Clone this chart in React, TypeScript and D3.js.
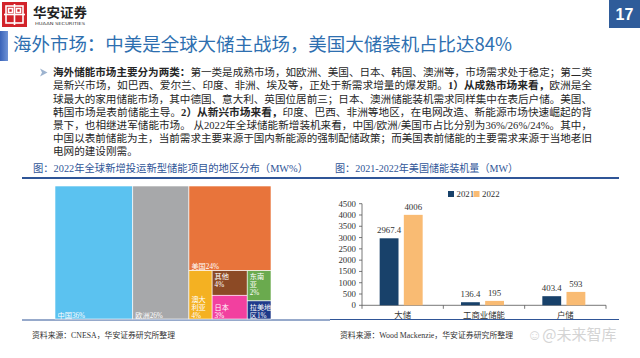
import React from "react";
import * as d3 from "d3";

// ---------- data ----------
const regionNames = ["中国", "欧洲", "美国", "澳大利亚", "其他", "日本", "东南亚", "拉美地区"];
const regionShares = [36, 26, 24.2, 3.9, 3.0, 2.9, 2.5, 1.5];
const regionLabelLines = [["中国36%"], ["欧洲26%"], ["美国24%"], ["澳大", "利亚", "4%"], ["其他", "4%"], ["日本", "3%"], ["东南", "亚", "2%"], ["拉美地", "区1%"]];
const treeShape: any[] = [0, 1, [2, [3, [4, 5], [6, 7]]]];

const barCategories = ["大储", "工商业储能", "户储"];
const barSeries = ["2021", "2022"];
const values2021 = [2967.4, 136.4, 403.4];
const values2022 = [4006, 195, 593];
const valueLabels2021 = ["2967.4", "136.4", "403.4"];
const valueLabels2022 = ["4006", "195", "593"];
const yTicks = [0, 500, 1000, 1500, 2000, 2500, 3000, 3500, 4000, 4500];

const titleText = "海外市场：中美是全球大储主战场，美国大储装机占比达84%";
const bodyLines: [string, boolean][][] = [
  [["海外储能市场主要分为两类：", true], ["第一类是成熟市场，如欧洲、美国、日本、韩国、澳洲等，市场需求处于稳定；第二类", false]],
  [["是新兴市场，如巴西、爱尔兰、印度、非洲、埃及等，正处于新需求增量的爆发期。", false], ["1）从成熟市场来看，", true], ["欧洲是全", false]],
  [["球最大的家用储能市场，其中德国、意大利、英国位居前三；日本、澳洲储能装机需求同样集中在表后户储。美国、", false]],
  [["韩国市场是表前储能主导。", false], ["2）从新兴市场来看，", true], ["印度、巴西、非洲等地区，在电网改造、新能源市场快速崛起的背", false]],
  [["景下，也相继进军储能市场。 从2022年全球储能新增装机来看，中国/欧洲/美国市占比分别为36%/26%/24%。其中，", false]],
  [["中国以表前储能为主，当前需求主要来源于国内新能源的强制配储政策；而美国表前储能的主要需求来源于当地老旧", false]],
  [["电网的建设刚需。", false]],
];

// ---------- styles ----------
const regionColors = ["#5bc2f0", "#a7a8aa", "#e8743b", "#f4b122", "#8c4a25", "#f2409f", "#6aaa4e", "#1e3a8a"];
const labelTop = [false, false, false, false, true, false, true, false];
const seriesColors = ["#18416a", "#f9bb73"];
const CJK = "'Noto Sans CJK SC', 'Noto Sans', sans-serif";
const SERIF = "'Liberation Serif', 'Noto Sans CJK SC', serif";
const BLUE = "#2f5597";

function buildTree(node: any): any {
  if (typeof node === "number") return { name: regionNames[node], idx: node, value: regionShares[node] };
  return { children: node.map(buildTree) };
}

export default function App() {
  // treemap
  const tmX0 = 55, tmY0 = 186, tmX1 = 271, tmY1 = 319;
  const root = d3.hierarchy(buildTree(treeShape)).sum((d: any) => d.value || 0);
  d3.treemap().tile(d3.treemapSliceDice).size([tmX1 - tmX0, tmY1 - tmY0]).round(false)(root as any);
  const leaves = root.leaves() as any[];

  // bar chart
  const x = d3.scaleBand().domain(barCategories).range([362, 606]).paddingInner(0).paddingOuter(0);
  const y = d3.scaleLinear().domain([0, 4500]).range([305.3, 203.7]);
  const series = [values2021, values2022];
  const seriesLabels = [valueLabels2021, valueLabels2022];

  return (
    <svg width={640} height={358} style={{ position: "fixed", left: 0, top: 0, background: "#fff" }} xmlns="http://www.w3.org/2000/svg">
      <rect width={640} height={358} fill="#fff" />
      <defs>
        <linearGradient id="tbar" x1="0" y1="0" x2="1" y2="0">
          <stop offset="0" stopColor="#3a63b8" />
          <stop offset="1" stopColor="#6f93d6" />
        </linearGradient>
      </defs>
      {/* header logo */}
      <rect x={2} y={2} width={25} height={25} fill="#d2232a" />
      <g stroke="#fff" strokeWidth={1.6} fill="none">
        <rect x={6} y={6} width={17} height={17} />
        <line x1={14.5} y1={4} x2={14.5} y2={25} />
        <line x1={4} y1={14.5} x2={25} y2={14.5} />
        <rect x={8.5} y={8.5} width={4} height={4} />
        <rect x={16.5} y={8.5} width={4} height={4} />
      </g>
      <text x={33} y={17} fontFamily={CJK} fontSize={13} fontWeight="bold" fill="#222" textLength={54} lengthAdjust="spacingAndGlyphs">华安证券</text>
      <text x={35} y={24.5} fontFamily="'DejaVu Sans', sans-serif" fontSize={4.2} fill="#333" textLength={50} lengthAdjust="spacingAndGlyphs">HUAAN SECURITIES</text>
      {/* page number */}
      <rect x={609} y={0} width={31} height={28} fill="#2f5c9a" />
      <text x={624.5} y={20} textAnchor="middle" fontFamily="'Liberation Sans', Arial, sans-serif" fontWeight="bold" fontSize={16} fill="#fff">17</text>

      {/* title */}
      <rect x={0} y={31} width={8} height={30} fill="url(#tbar)" />
      <text x={13} y={51} fontFamily={CJK} fontSize={18} fill="#2e6fb0" textLength={499} lengthAdjust="spacingAndGlyphs">{titleText}</text>

      {/* body */}
      <path d="M40,68.5 L47.5,72.5 L40,76.5 L42,72.5 Z" fill="#9db3cf" />
      {bodyLines.map((segs, i) => (
        <text key={i} x={53} y={76.3 + i * 13.1} fontFamily={SERIF} fontSize={10.6} fill="#262626"
          {...(i < 6 ? { textLength: 539, lengthAdjust: "spacingAndGlyphs" } : {})}>
          {segs.map(([t, b], j) => (
            <tspan key={j} fontWeight={b ? "bold" : "normal"}>{t}</tspan>
          ))}
        </text>
      ))}

      {/* left chart caption */}
      <text x={33} y={172} fontFamily={SERIF} fontSize={10.5} fill={BLUE} textLength={275} lengthAdjust="spacingAndGlyphs">图：2022年全球新增投运新型储能项目的地区分布（MW%）</text>
      <line x1={22} x2={330} y1={178} y2={178} stroke={BLUE} strokeWidth={2} />
      <line x1={22} x2={330} y1={320} y2={320} stroke={BLUE} strokeWidth={1} />
      {leaves.map((l: any) => {
        const i = l.data.idx;
        const lx = tmX0 + l.x0, ly0 = tmY0 + l.y0, ly1 = tmY0 + l.y1;
        const lines = regionLabelLines[i];
        const lh = 8;
        const startY = labelTop[i] ? ly0 + 8 : ly1 - 1.5 - (lines.length - 1) * lh;
        return (
          <g key={i}>
            <rect x={lx} y={ly0} width={l.x1 - l.x0} height={l.y1 - l.y0} fill={regionColors[i]} stroke="#fff" strokeWidth={0.6} />
            {lines.map((t: string, k: number) => (
              <text key={k} x={lx + 2.5} y={startY + k * lh} fontFamily={SERIF} fontSize={7.2} fill="#fff">{t}</text>
            ))}
          </g>
        );
      })}
      <text x={32} y={338} fontFamily={SERIF} fontSize={8.4} fill="#333" textLength={143} lengthAdjust="spacingAndGlyphs">资料来源：CNESA，华安证券研究所整理</text>

      {/* right chart */}
      <text x={335} y={172} fontFamily={SERIF} fontSize={10.5} fill={BLUE} textLength={183} lengthAdjust="spacingAndGlyphs">图：2021-2022年美国储能装机量（MW）</text>
      <line x1={330} x2={619} y1={178} y2={178} stroke={BLUE} strokeWidth={2} />
      <line x1={330} x2={619} y1={319.5} y2={319.5} stroke={BLUE} strokeWidth={1} />

      {/* legend */}
      {barSeries.map((s, i) => (
        <g key={s}>
          <rect x={448 + i * 25.5} y={191} width={6} height={6} fill={seriesColors[i]} />
          <text x={456.5 + i * 25.5} y={197.3} fontFamily={SERIF} fontSize={8.8} fill="#333">{s}</text>
        </g>
      ))}

      {/* y axis */}
      <line x1={362} x2={362} y1={y(0)} y2={y(4500)} stroke="#555" strokeWidth={0.8} />
      {yTicks.map((t) => (
        <g key={t}>
          <line x1={359} x2={362} y1={y(t)} y2={y(t)} stroke="#555" strokeWidth={0.8} />
          <text x={356} y={y(t) + 3} textAnchor="end" fontFamily={SERIF} fontSize={8.8} fill="#333">{t}</text>
        </g>
      ))}
      {/* x axis */}
      <line x1={362} x2={606} y1={y(0)} y2={y(0)} stroke="#555" strokeWidth={0.8} />
      {[...barCategories.map((c) => x(c)!), 606].map((v, i) => (
        <line key={i} x1={v} x2={v} y1={y(0)} y2={y(0) + 3.5} stroke="#555" strokeWidth={0.8} />
      ))}
      {barCategories.map((c) => (
        <text key={c} x={x(c)! + x.bandwidth() / 2} y={318} textAnchor="middle" fontFamily={SERIF} fontSize={8.4} fill="#333">{c}</text>
      ))}
      {barCategories.map((c, ci) => {
        const cx = x(c)! + x.bandwidth() / 2 - 1.5;
        const xs = d3.scaleBand().domain(barSeries).range([cx - 21.5, cx + 21.5]).paddingInner(0.22);
        return barSeries.map((s, si) => {
          const v = series[si][ci];
          const bx = xs(s)!;
          return (
            <g key={c + s}>
              <rect x={bx} y={y(v)} width={xs.bandwidth()} height={y(0) - y(v)} fill={seriesColors[si]} />
              <text x={bx + xs.bandwidth() / 2} y={y(v) - 5} textAnchor="middle" fontFamily={SERIF} fontSize={8.8} fill="#333">{seriesLabels[si][ci]}</text>
            </g>
          );
        });
      })}
      <text x={340} y={338} fontFamily={SERIF} fontSize={8.4} fill="#333" textLength={173} lengthAdjust="spacingAndGlyphs">资料来源：Wood Mackenzie，华安证券研究所整理</text>

      {/* watermark */}
      <text x={527} y={340} fontFamily={CJK} fontSize={15} fill="#d4d4d4">☺@未来智库</text>
    </svg>
  );
}
